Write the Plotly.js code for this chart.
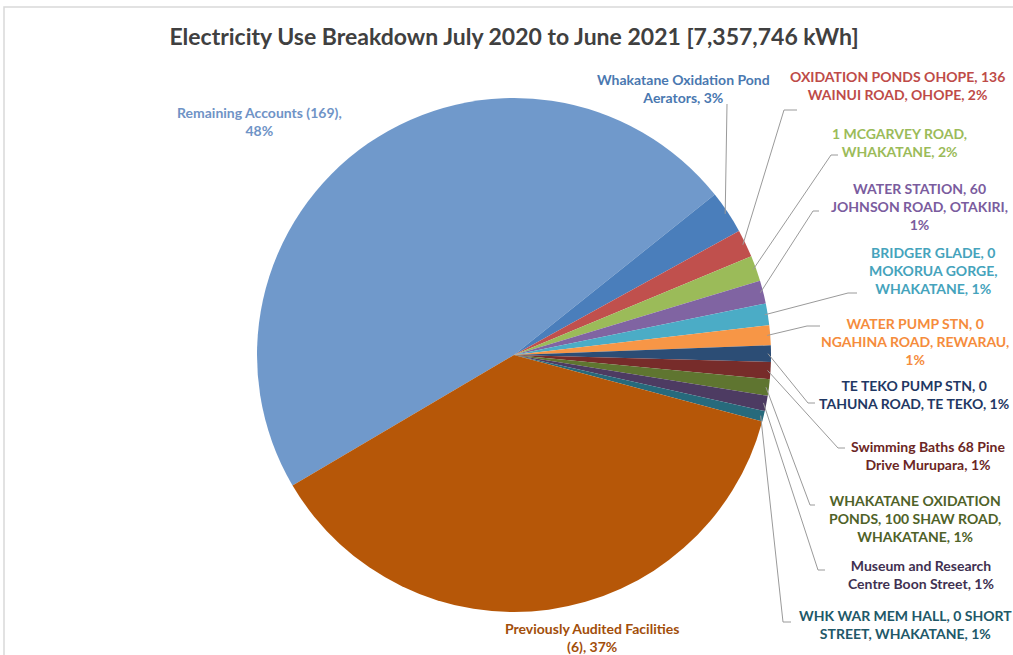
<!DOCTYPE html>
<html>
<head>
<meta charset="utf-8">
<script src="https://cdn.plot.ly/plotly-3.0.1.min.js"></script>
<style>html,body{margin:0;padding:0;background:#fff;}#chart{width:1013px;height:655px;}</style>
</head>
<body>
<div id="chart"></div>
<script>
// ---- data (kWh; total 7,357,746 kWh) ----
var categories = [
  "Remaining Accounts (169)",
  "Whakatane Oxidation Pond Aerators",
  "OXIDATION PONDS OHOPE, 136 WAINUI ROAD, OHOPE",
  "1 MCGARVEY ROAD, WHAKATANE",
  "WATER STATION, 60 JOHNSON ROAD, OTAKIRI",
  "BRIDGER GLADE, 0 MOKORUA GORGE, WHAKATANE",
  "WATER PUMP STN, 0 NGAHINA ROAD, REWARAU",
  "TE TEKO PUMP STN, 0 TAHUNA ROAD, TE TEKO",
  "Swimming Baths 68 Pine Drive Murupara",
  "WHAKATANE OXIDATION PONDS, 100 SHAW ROAD, WHAKATANE",
  "Museum and Research Centre Boon Street",
  "WHK WAR MEM HALL, 0 SHORT STREET, WHAKATANE",
  "Previously Audited Facilities (6)"
];
var values = [3513000, 199000, 129000, 118000, 107000, 100000, 92000, 76000, 79000, 76000, 71000, 49000, 2748746];
// label text with line breaks (percent appended from the data)
var labelLines = [
  "Remaining Accounts (169),<br>",
  "Whakatane Oxidation Pond<br>Aerators, ",
  "OXIDATION PONDS OHOPE, 136<br>WAINUI ROAD, OHOPE, ",
  "1 MCGARVEY ROAD,<br>WHAKATANE, ",
  "WATER STATION, 60<br>JOHNSON ROAD, OTAKIRI,<br>",
  "BRIDGER GLADE, 0<br>MOKORUA GORGE,<br>WHAKATANE, ",
  "WATER PUMP STN, 0<br>NGAHINA ROAD, REWARAU,<br>",
  "TE TEKO PUMP STN, 0<br>TAHUNA ROAD, TE TEKO, ",
  "Swimming Baths 68 Pine<br>Drive Murupara, ",
  "WHAKATANE OXIDATION<br>PONDS, 100 SHAW ROAD,<br>WHAKATANE, ",
  "Museum and Research<br>Centre Boon Street, ",
  "WHK WAR MEM HALL, 0 SHORT<br>STREET, WHAKATANE, ",
  "Previously Audited Facilities<br>(6), "
];
var titleText = "Electricity Use Breakdown July 2020 to June 2021 [7,357,746 kWh]";

// ---- styles / layout ----
var W = 1013, H = 655;
var CX = 514, CY = 355, R = 257;
var startAngle = 239.5;
var sliceColors = ["#7099CB","#4A7EBB","#C0504D","#9BBB59","#8064A2","#4BACC6","#F79646",
                   "#2C4D75","#772C2A","#5F7530","#4D3B62","#276A7C","#B65708"];
var textColors  = ["#6F93C6","#4A78B0","#BE4B48","#9BBB59","#7A5C9E","#45A3BC","#F58C3C",
                   "#1F3864","#6B2624","#4F6228","#3F3151","#215868","#A24E0A"];
// label centres (px) and leader elbow/end (px); null = no leader
var labelPos = [[259,121],[683,89],[897,85],[899,142],[919,206],[933,270],[915,341],
                [914,394],[928,455],[915,518],[921,574],[905,624],[592,637]];
var leaders = [null,[[727,104],[727,104]],[[784,110],[797,110]],[[831,155],[838,155]],
               [[813,211],[819,211]],[[848,293],[857,293]],[[807,326],[820,326]],
               [[808,403],[815,403]],[[838,448],[845,448]],[[810,505],[815,505]],
               [[818,570],[825,570]],[[783,622],[791,622]],null];

var total = values.reduce(function(a,b){return a+b;},0);
function px2x(p){return p/W;}
function py2y(p){return 1-p/H;}

var annotations = [], shapes = [];
var cum = 0;
for (var i=0;i<values.length;i++){
  var pct = Math.round(values[i]/total*100);
  annotations.push({
    xref:'paper', yref:'paper', x:px2x(labelPos[i][0]), y:py2y(labelPos[i][1]),
    xanchor:'center', yanchor:'middle', align:'center', showarrow:false,
    text:'<b>'+labelLines[i]+pct+'%</b>',
    font:{family:'Lato, Calibri, sans-serif', size:14, color:textColors[i]}
  });
  var mid = (startAngle + (cum + values[i]/2)/total*360) * Math.PI/180;
  cum += values[i];
  if (leaders[i]){
    var sx = CX + (R-3)*Math.sin(mid), sy = CY - (R-3)*Math.cos(mid);
    var e = leaders[i][0], f = leaders[i][1];
    shapes.push({type:'path', xref:'paper', yref:'paper',
      path:'M'+px2x(sx)+','+py2y(sy)+' L'+px2x(e[0])+','+py2y(e[1])+' L'+px2x(f[0])+','+py2y(f[1]),
      line:{color:'#9A9A9A', width:1}});
  }
}
// chart area border
shapes.push({type:'rect', xref:'paper', yref:'paper', x0:px2x(4), y0:py2y(700), x1:px2x(1100), y1:py2y(7),
  line:{color:'#D9D9D9', width:1.5}, layer:'below'});

var trace = {
  type:'pie', labels:categories, values:values, sort:false, direction:'clockwise',
  rotation:startAngle, textinfo:'none', hoverinfo:'label+percent',
  marker:{colors:sliceColors, line:{width:0}},
  domain:{x:[(CX-R)/W,(CX+R)/W], y:[1-(CY+R)/H, 1-(CY-R)/H]},
  showlegend:false
};
var layout = {
  width:W, height:H, margin:{l:0,r:0,t:0,b:0},
  paper_bgcolor:'#fff', showlegend:false,
  title:{text:'<b>'+titleText+'</b>', x:px2x(514), xref:'paper', y:py2y(37), yref:'paper', xanchor:'center', yanchor:'middle',
         font:{family:'Lato, Calibri, sans-serif', size:23, color:'#404040'}},
  annotations:annotations, shapes:shapes
};
Plotly.newPlot('chart',[trace],layout,{displayModeBar:false,staticPlot:true});
</script>
</body>
</html>
